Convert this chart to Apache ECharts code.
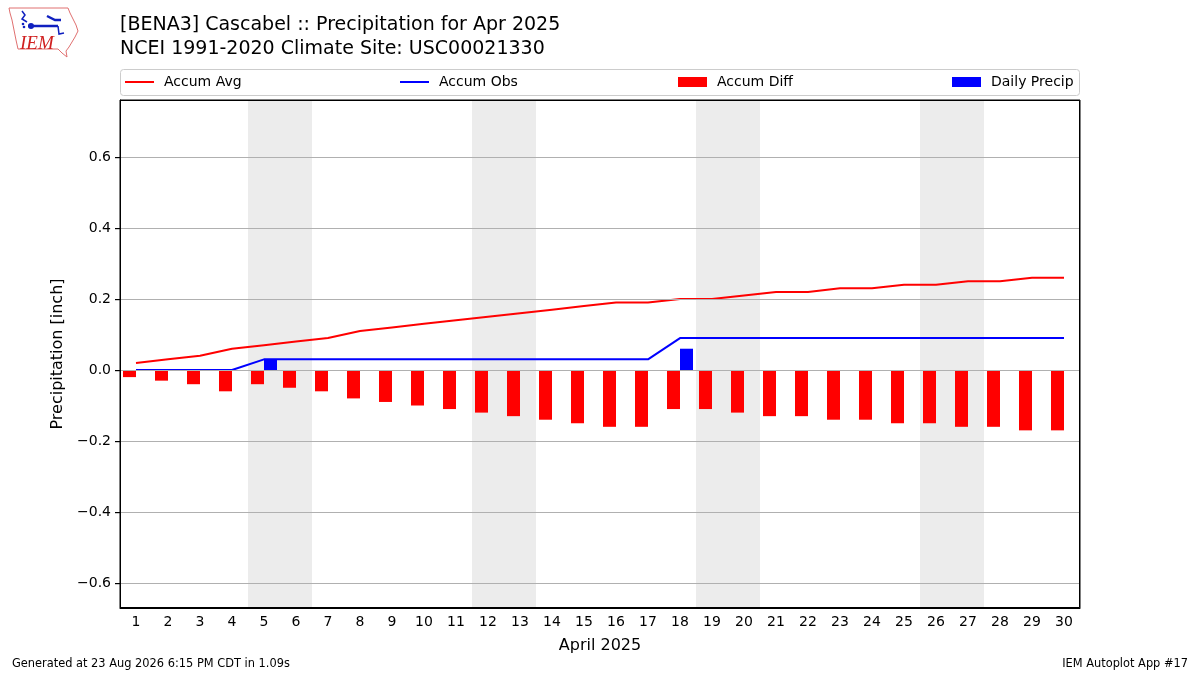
<!DOCTYPE html>
<html lang="en">
<head>
<meta charset="UTF-8">
<title>Cascabel Precipitation Apr 2025</title>
<script src="https://cdn.jsdelivr.net/npm/echarts@6/dist/echarts.min.js"></script>
<style>
  html, body { margin: 0; padding: 0; background: #fff; }
  #main { width: 1200px; height: 675px; }
</style>
</head>
<body>
<div id="main"></div>
<script>
// days of April 2025
var days = [];
for (var d = 1; d <= 30; d++) days.push(String(d));

// values (inch)
var accumAvg = [0.02, 0.03, 0.04, 0.06, 0.07, 0.08, 0.09, 0.11, 0.12, 0.13,
                0.14, 0.15, 0.16, 0.17, 0.18, 0.19, 0.19, 0.20, 0.20, 0.21,
                0.22, 0.22, 0.23, 0.23, 0.24, 0.24, 0.25, 0.25, 0.26, 0.26];
var accumObs = [0.00, 0.00, 0.00, 0.00, 0.03, 0.03, 0.03, 0.03, 0.03, 0.03,
                0.03, 0.03, 0.03, 0.03, 0.03, 0.03, 0.03, 0.09, 0.09, 0.09,
                0.09, 0.09, 0.09, 0.09, 0.09, 0.09, 0.09, 0.09, 0.09, 0.09];
var accumDiff = [-0.02, -0.03, -0.04, -0.06, -0.04, -0.05, -0.06, -0.08, -0.09, -0.10,
                 -0.11, -0.12, -0.13, -0.14, -0.15, -0.16, -0.16, -0.11, -0.11, -0.12,
                 -0.13, -0.13, -0.14, -0.14, -0.15, -0.15, -0.16, -0.16, -0.17, -0.17];
var dailyPrecip = [0, 0, 0, 0, 0.03, 0, 0, 0, 0, 0,
                   0, 0, 0, 0, 0, 0, 0, 0.06, 0, 0,
                   0, 0, 0, 0, 0, 0, 0, 0, 0, 0];
var weekendDays = [5, 6, 12, 13, 19, 20, 26, 27];
var yTicks = [-0.6, -0.4, -0.2, 0, 0.2, 0.4, 0.6];

var FONT = 'DejaVu Sans';
var Y_MIN = -0.6704, Y_MAX = 0.7606;
var GRID_LEFT = 120, GRID_TOP = 100, GRID_H = 508;

// shading bands for each Sat/Sun pair
var bands = [];
for (var i = 0; i < weekendDays.length; i += 2) {
    bands.push([{xAxis: weekendDays[i] - 0.5}, {xAxis: weekendDays[i + 1] + 0.5}]);
}

function fmt(v) {
    return v.toFixed(1).replace('-', '\u2212');
}

var myChart = echarts.init(document.getElementById('main'));

function legendAt(left, name, h) {
    return {
        left: left, top: 70, itemWidth: 29, itemHeight: h, itemGap: 0,
        data: [{name: name, icon: 'rect'}],
        textStyle: {fontFamily: FONT, fontSize: 14, color: '#000', padding: [0, 0, 0, 5]},
        selectedMode: false
    };
}

var graphics = [
    // legend frame
    {type: 'rect', shape: {x: 120.5, y: 69.5, width: 959, height: 26, r: 3},
     style: {fill: '#fff', stroke: '#cccccc', lineWidth: 1}, z: -1},
    // plot frame on top of the shading
    {type: 'rect', shape: {x: 120.5, y: 100.5, width: 959, height: 507},
     style: {fill: 'none', stroke: '#000', lineWidth: 1}, z: 100, silent: true},
    // IEM logo, rough
    {type: 'polyline', shape: {points: [[9, 8], [68, 8], [70, 13], [73, 19], [76, 25], [78, 31],
            [75, 37], [72, 42], [69, 47], [66, 51], [67, 57], [62, 53], [58, 49], [18, 49], [16, 40],
            [14, 30], [12, 20], [10, 13], [9, 8]]},
     style: {fill: 'none', stroke: '#e07070', lineWidth: 1}},
    {type: 'polyline', shape: {points: [[28, 26], [58, 26]]}, style: {stroke: '#1020c0', lineWidth: 2.5}},
    {type: 'circle', shape: {cx: 31, cy: 26, r: 3}, style: {fill: '#1020c0'}},
    {type: 'circle', shape: {cx: 24, cy: 27, r: 1.3}, style: {fill: '#1020c0'}},
    {type: 'circle', shape: {cx: 23, cy: 24, r: 1.3}, style: {fill: '#1020c0'}},
    {type: 'polyline', shape: {points: [[47, 16], [55, 20], [61, 20]]}, style: {stroke: '#1020c0', lineWidth: 2.5, fill: 'none'}},
    {type: 'polyline', shape: {points: [[58, 26], [59, 34], [64, 33]]}, style: {stroke: '#1020c0', lineWidth: 1.5, fill: 'none'}},
    {type: 'polyline', shape: {points: [[22, 11], [25, 15], [22, 19], [27, 22]]}, style: {stroke: '#1020c0', lineWidth: 1.5, fill: 'none'}},
    {type: 'text', left: 20, top: 34,
     style: {text: 'IEM', fill: '#d02020', font: 'italic 19px "Liberation Serif"'}},
    // footer
    {type: 'text', left: 12, top: 659,
     style: {text: 'Generated at 23 Aug 2026 6:15 PM CDT in 1.09s', fill: '#000', font: '11.4px "DejaVu Sans"'}},
    {type: 'text', right: 12, top: 659,
     style: {text: 'IEM Autoplot App #17', fill: '#000', font: '11.4px "DejaVu Sans"'}}
];

// y tick marks along the left axis, at the label values
yTicks.forEach(function (t) {
    var py = Math.round(GRID_TOP + (Y_MAX - t) / (Y_MAX - Y_MIN) * GRID_H) + 0.5;
    graphics.push({type: 'rect', shape: {x: GRID_LEFT - 5, y: py - 0.5, width: 5, height: 1.2},
                   style: {fill: '#000'}, z: 100, silent: true});
});

myChart.setOption({
    animation: false,
    backgroundColor: '#fff',
    textStyle: {fontFamily: FONT},
    title: [
        {text: '[BENA3] Cascabel :: Precipitation for Apr 2025', left: 115, top: 11,
         textStyle: {fontFamily: FONT, fontSize: 19, fontWeight: 'normal', color: '#000'}},
        {text: 'NCEI 1991-2020 Climate Site: USC00021330', left: 115, top: 35,
         textStyle: {fontFamily: FONT, fontSize: 19, fontWeight: 'normal', color: '#000'}}
    ],
    legend: [
        legendAt(120, 'Accum Avg', 2),
        legendAt(395, 'Accum Obs', 2),
        legendAt(673, 'Accum Diff', 10),
        legendAt(947, 'Daily Precip', 10)
    ],
    grid: {left: GRID_LEFT, right: 120, top: GRID_TOP, height: GRID_H, show: true,
           borderColor: '#000', borderWidth: 1, backgroundColor: 'transparent'},
    xAxis: [
        {type: 'category', data: days, boundaryGap: true, z: 10,
         axisLine: {onZero: false, lineStyle: {color: '#000'}},
         axisTick: {alignWithLabel: true, length: 5, lineStyle: {color: '#000'}},
         axisLabel: {fontFamily: FONT, fontSize: 14, color: '#000', margin: 7, interval: 0},
         splitLine: {show: false},
         name: 'April 2025', nameLocation: 'middle', nameGap: 30,
         nameTextStyle: {fontFamily: FONT, fontSize: 16, color: '#000'}},
        {type: 'value', min: 0.5, max: 30.5, show: false}
    ],
    yAxis: {
        type: 'value', min: Y_MIN, max: Y_MAX, z: 10,
        axisLine: {show: true, lineStyle: {color: '#000'}},
        axisTick: {show: false},
        axisLabel: {customValues: yTicks, fontFamily: FONT, fontSize: 14, color: '#000', margin: 9,
                    formatter: function (v) { return fmt(v); }},
        splitLine: {show: false},
        name: 'Precipitation [inch]', nameLocation: 'middle', nameGap: 47, nameRotate: 90,
        nameTextStyle: {fontFamily: FONT, fontSize: 16, color: '#000'}
    },
    series: [
        {   // weekend shading + horizontal grid
            type: 'line', xAxisIndex: 1, data: [], silent: true, z: 0,
            markArea: {silent: true, itemStyle: {color: '#ececec'}, data: bands},
            markLine: {silent: true, symbol: 'none', label: {show: false},
                       lineStyle: {color: '#b0b0b0', width: 1, type: 'solid'},
                       data: yTicks.map(function (t) { return {yAxis: t}; })}
        },
        {name: 'Accum Diff', type: 'bar', data: accumDiff, barWidth: 13, barGap: '0%',
         itemStyle: {color: '#ff0000'}, z: 2},
        {name: 'Daily Precip', type: 'bar', data: dailyPrecip, barWidth: 13, barGap: '0%',
         itemStyle: {color: '#0000ff'}, z: 2},
        {name: 'Accum Avg', type: 'line', data: accumAvg, symbol: 'none',
         lineStyle: {color: '#ff0000', width: 2}, itemStyle: {color: '#ff0000'}, z: 3},
        {name: 'Accum Obs', type: 'line', data: accumObs, symbol: 'none',
         lineStyle: {color: '#0000ff', width: 2}, itemStyle: {color: '#0000ff'}, z: 3}
    ],
    graphic: graphics
});
</script>
</body>
</html>
